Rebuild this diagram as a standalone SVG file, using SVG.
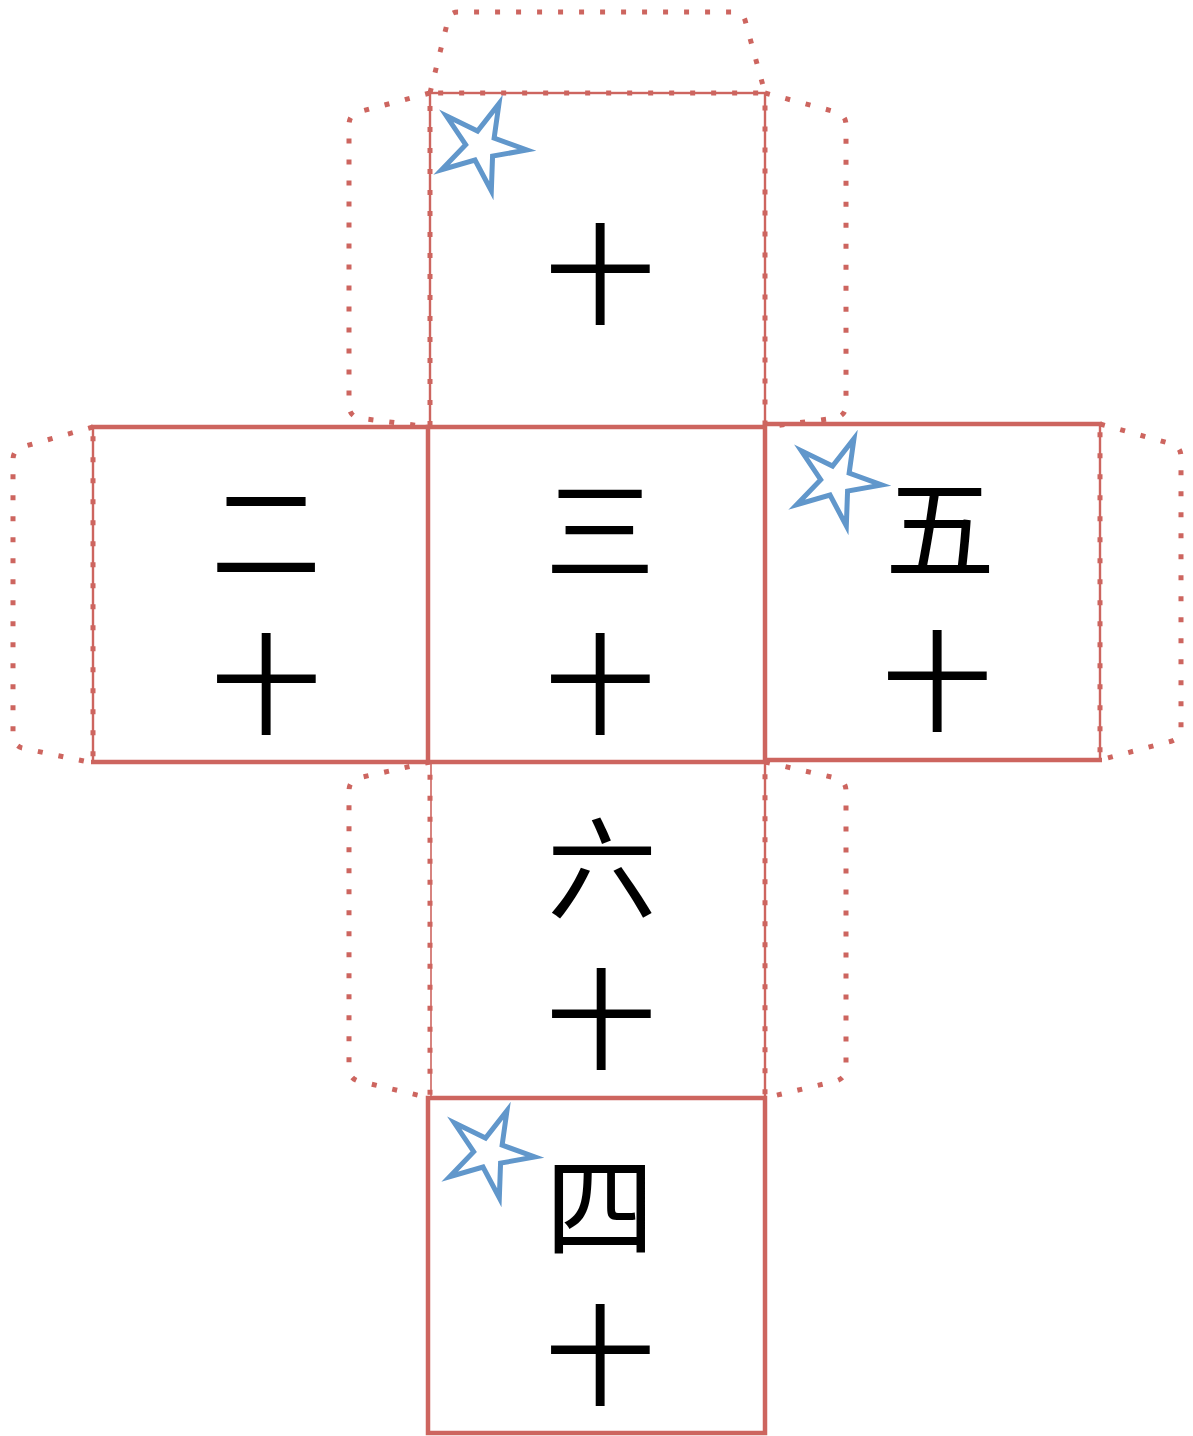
<svg xmlns="http://www.w3.org/2000/svg" xmlns:xlink="http://www.w3.org/1999/xlink" width="1193" height="1436" viewBox="0 0 1193 1436">
<style>
.tab{fill:none;stroke:#CD655F;stroke-width:5;stroke-dasharray:5 16;stroke-linejoin:miter}
.thick{fill:none;stroke:#CD655F;stroke-width:4.5}
.thin{fill:none;stroke:#CD655F;stroke-width:2.4}
.hair{fill:none;stroke:#CD655F;stroke-width:1.6}
.ch{font-family:"Noto Sans CJK SC","Noto Sans CJK TC",sans-serif;font-size:110px;fill:#000;text-anchor:middle;dominant-baseline:central}
.star{fill:#fff;stroke:#6197CB;stroke-width:5;stroke-linejoin:miter}
</style>
<defs>
<path id="starShape" d="M0,-46 L9,-12.4 L43.7,-14.2 L14.6,4.8 L27,37.2 L0,15.3 L-27,37.2 L-14.6,4.8 L-43.7,-14.2 L-9,-12.4 Z"/>
</defs>
<rect width="1193" height="1436" fill="#fff"/>
<g id="tabs">
<path class="tab" d="M430,93 L448,20 Q450,12 458,12 L735,12 Q742,12 745,20 L765,93 Z"/>
<path class="tab" d="M430,93 L358,112 Q349,115 349,125 L349,405 Q349,415 358,418 L430,427 Z"/>
<path class="tab" d="M765,93 L836,112 Q846,115 846,125 L846,405 Q846,415 836,418 L765,427 Z"/>
<path class="tab" d="M93,427 L22,447 Q13,450 13,460 L13,735 Q13,745 22,748 L93,763 Z"/>
<path class="tab" d="M1100,424 L1172,444 Q1181,447 1181,457 L1181,728 Q1181,738 1172,741 L1100,760 Z"/>
<path class="tab" d="M430,762 L358,778 Q349,781 349,791 L349,1068 Q349,1078 358,1081 L430,1098 Z"/>
<path class="tab" d="M765,762 L836,778 Q846,781 846,791 L846,1068 Q846,1078 836,1081 L765,1098 Z"/>
</g>
<g id="face-top">
<rect class="thin" x="430" y="93" width="335" height="334"/>
<use xlink:href="#starShape" class="star" transform="translate(481,146) rotate(23)"/>
<text class="ch" x="600" y="268">十</text>
</g>
<g id="face-left">
<line class="thin" x1="93" y1="427" x2="93" y2="762"/>
<line class="thick" x1="91" y1="427" x2="428" y2="427"/>
<line class="thick" x1="91" y1="762" x2="428" y2="762"/>
<text class="ch" x="266" y="526">二</text>
<text class="ch" x="266" y="678">十</text>
</g>
<g id="face-bottom">
<line class="hair" x1="431" y1="762" x2="431" y2="1098"/>
<line class="thin" x1="765" y1="762" x2="765" y2="1098"/>
<text class="ch" x="602" y="862">六</text>
<text class="ch" x="601" y="1013">十</text>
</g>
<g id="face-right">
<line class="thin" x1="1100" y1="424" x2="1100" y2="760"/>
<line class="thick" x1="765" y1="424" x2="1102" y2="424"/>
<line class="thick" x1="765" y1="760" x2="1102" y2="760"/>
<use xlink:href="#starShape" class="star" transform="translate(836,481) rotate(23)"/>
<text class="ch" x="940" y="522">五</text>
<text class="ch" x="937" y="675">十</text>
</g>
<g id="face-center">
<rect class="thick" x="428" y="427" width="337" height="335"/>
<text class="ch" x="600" y="524">三</text>
<text class="ch" x="600" y="678">十</text>
</g>
<g id="face-four">
<rect class="thick" x="428" y="1098" width="337" height="335"/>
<use xlink:href="#starShape" class="star" transform="translate(489,1153) rotate(23)"/>
<text class="ch" x="600" y="1200">四</text>
<text class="ch" x="600" y="1349">十</text>
</g>
</svg>
